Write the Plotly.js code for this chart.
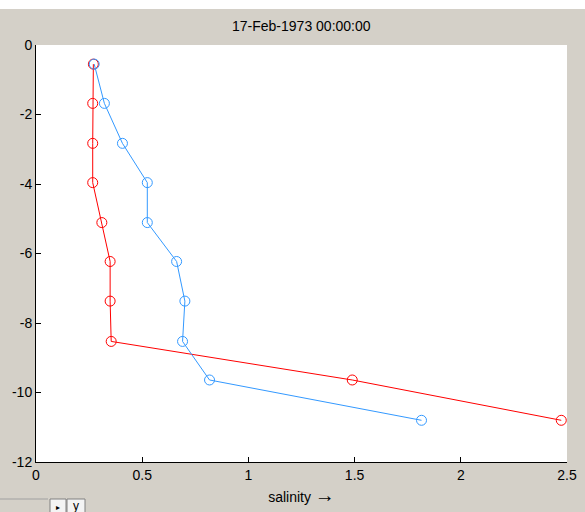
<!DOCTYPE html>
<html>
<head>
<meta charset="utf-8">
<script src="https://cdn.plot.ly/plotly-3.0.1.min.js"></script>
<style>html,body{margin:0;padding:0;background:#d4d0c8;}</style>
</head>
<body>
<div id="chart" style="width:585px;height:512px;"></div>
<script>
// Data
const depth = [-0.55, -1.68, -2.83, -3.96, -5.11, -6.23, -7.37, -8.53, -9.64, -10.8];
const salinityRed = [0.270, 0.267, 0.267, 0.267, 0.310, 0.349, 0.349, 0.354, 1.489, 2.473];
const salinityBlue = [0.274, 0.322, 0.407, 0.524, 0.524, 0.662, 0.701, 0.690, 0.817, 1.815];
const xTicks = [0, 0.5, 1, 1.5, 2, 2.5];
const xTickLabels = ['0', '0.5', '1', '1.5', '2', '2.5'];
const yTicks = [-12, -10, -8, -6, -4, -2, 0];
const yTickLabels = ['-12', '-10', '-8', '-6', '-4', '-2', '0'];
const titleText = '17-Feb-1973 00:00:00';
const xLabel = 'salinity <span style="font-size:20px">\u2192</span>';

const L = 36, R = 567, T = 45, B = 462;
const W = 585, H = 512;
const fx = px => (px - L) / (R - L);
const fy = py => (B - py) / (B - T);

const font = {family: 'Liberation Sans, Arial, sans-serif', size: 14, color: '#000'};

const traces = [
  {x: salinityRed, y: depth, mode: 'lines+markers', type: 'scatter',
   line: {color: '#ff0000', width: 1},
   marker: {symbol: 'circle-open', size: 10, color: '#ff0000', line: {width: 1, color: '#ff0000'}},
   hoverinfo: 'skip', cliponaxis: false},
  {x: salinityBlue, y: depth, mode: 'lines+markers', type: 'scatter',
   line: {color: '#3399ff', width: 1},
   marker: {symbol: 'circle-open', size: 10, color: '#3399ff', line: {width: 1, color: '#3399ff'}},
   hoverinfo: 'skip', cliponaxis: false}
];

const layout = {
  width: W, height: H,
  margin: {l: L, r: W - R, t: T, b: H - B, pad: 0},
  paper_bgcolor: '#d4d0c8',
  plot_bgcolor: '#ffffff',
  showlegend: false,
  font: font,
  xaxis: {
    range: [0, 2.5], tickvals: xTicks, ticktext: xTickLabels,
    showgrid: false, zeroline: false, showline: true, linecolor: '#000', linewidth: 1,
    ticks: 'inside', ticklen: 5, tickcolor: '#000', tickfont: font,
    mirror: false, fixedrange: true,
    title: {text: xLabel, font: font, standoff: 10}
  },
  yaxis: {
    range: [-12, 0], tickvals: yTicks, ticktext: yTickLabels,
    showgrid: false, zeroline: false, showline: true, linecolor: '#000', linewidth: 1,
    ticks: 'inside', ticklen: 5, tickcolor: '#000', tickfont: font,
    mirror: false, fixedrange: true
  },
  annotations: [
    {text: titleText, xref: 'paper', yref: 'paper', x: 0.5, y: fy(25.5),
     showarrow: false, font: font, xanchor: 'center', yanchor: 'middle'},
    {text: '\u25B8', xref: 'paper', yref: 'paper', x: fx(58), y: fy(507),
     showarrow: false, font: {family: 'DejaVu Sans', size: 8, color: '#000'}, xanchor: 'center', yanchor: 'middle'},
    {text: 'y', xref: 'paper', yref: 'paper', x: fx(76), y: fy(506),
     showarrow: false, font: {family: 'Liberation Sans, Arial', size: 12, color: '#000'}, xanchor: 'center', yanchor: 'middle'}
  ],
  shapes: [
    {type: 'rect', xref: 'paper', yref: 'paper', x0: fx(0), x1: fx(W), y0: fy(0), y1: fy(9),
     fillcolor: '#ffffff', line: {width: 0}, layer: 'below'},
    {type: 'line', xref: 'paper', yref: 'paper', x0: fx(0), x1: fx(48), y0: fy(499), y1: fy(499),
     line: {color: '#a0a0a0', width: 1}},
    {type: 'rect', xref: 'paper', yref: 'paper', x0: fx(50), x1: fx(66), y0: fy(499), y1: fy(513),
     fillcolor: '#f4f4f4', line: {color: '#808080', width: 1}},
    {type: 'rect', xref: 'paper', yref: 'paper', x0: fx(67), x1: fx(85), y0: fy(499), y1: fy(513),
     fillcolor: '#f4f4f4', line: {color: '#808080', width: 1}}
  ]
};

Plotly.newPlot('chart', traces, layout, {staticPlot: true, displayModeBar: false});
</script>
</body>
</html>
